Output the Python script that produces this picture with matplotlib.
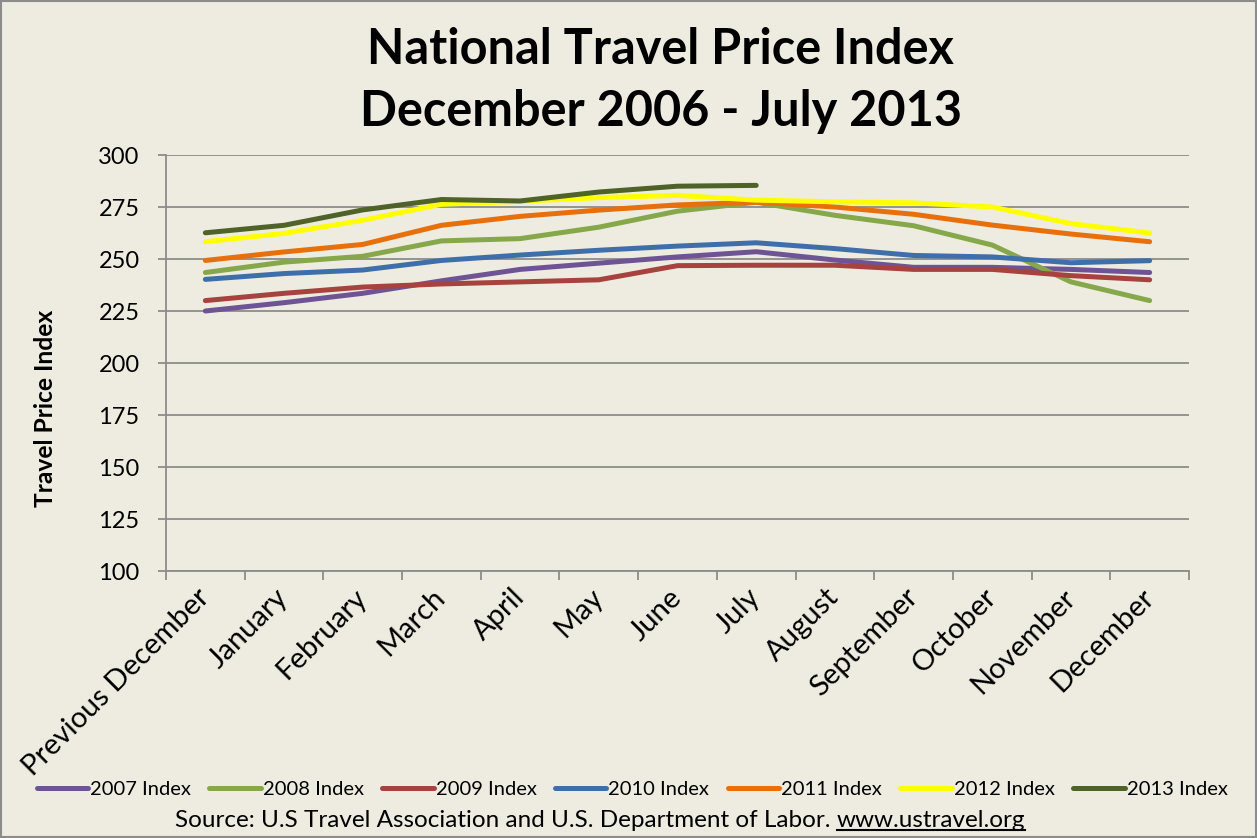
import matplotlib
matplotlib.use("Agg")
import matplotlib.pyplot as plt
from matplotlib.patches import Rectangle
from matplotlib.lines import Line2D

months = ["Previous December", "January", "February", "March", "April", "May",
          "June", "July", "August", "September", "October", "November", "December"]

idx_2007 = [225, 229, 233.5, 239.5, 245, 248, 251, 253.5, 249.5, 246, 246, 245, 243.5]
idx_2008 = [243.5, 248.5, 251.3, 258.7, 259.8, 265.3, 273, 277.3, 271, 266, 256.7, 239, 230]
idx_2009 = [230, 233.5, 236.5, 238, 239, 240, 246.8, 247, 247, 245, 245, 242, 240]
idx_2010 = [240.2, 243, 244.7, 249.3, 251.9, 254.2, 256.2, 257.8, 255, 251.7, 251, 248.2, 249.2]
idx_2011 = [249.3, 253.4, 257, 266.2, 270.5, 273.5, 276, 277.3, 275, 271.5, 266.3, 262, 258.3]
idx_2012 = [258.3, 262.3, 268.6, 276.3, 277.7, 279.5, 280.6, 278.3, 277.5, 277, 275, 267, 262.5]
idx_2013 = [262.6, 266.2, 273.6, 278.6, 277.9, 282.2, 285, 285.4]

series = [
    ("2007 Index", idx_2007, "#6E5494"),
    ("2008 Index", idx_2008, "#86A84A"),
    ("2009 Index", idx_2009, "#A8423F"),
    ("2010 Index", idx_2010, "#3F6FAA"),
    ("2011 Index", idx_2011, "#E8700C"),
    ("2012 Index", idx_2012, "#FFFF00"),
    ("2013 Index", idx_2013, "#4F6228"),
]

yticks = [100, 125, 150, 175, 200, 225, 250, 275, 300]

BG = "#EEECE1"
GRID = "#8C8C8C"
FONT = ["Lato", "DejaVu Sans"]
plt.rcParams["font.family"] = FONT

W, H = 1257, 838
fig = plt.figure(figsize=(W / 100, H / 100), dpi=100, facecolor=BG)
ax = fig.add_axes([166 / W, 1 - 571 / H, (1189 - 166) / W, (571 - 155) / H])
ax.set_facecolor(BG)

for name, vals, col in series:
    ax.plot(range(len(vals)), vals, color=col, lw=3.6, solid_capstyle="round",
            solid_joinstyle="round", label=name, zorder=3)

ax.set_xlim(-0.5, 12.5)
ax.set_ylim(100, 300)
ax.set_yticks(yticks)
ax.set_yticklabels([str(v) for v in yticks], fontsize=17)
ax.yaxis.grid(True, color=GRID, lw=1.3, zorder=1)
ax.set_axisbelow(True)

ax.set_xticks(range(13))
ax.set_xticklabels(months, rotation=45, ha="right", va="center",
                   rotation_mode="anchor", fontsize=21)
ax.tick_params(axis="x", which="major", length=0, pad=16)
ax.set_xticks([i - 0.5 for i in range(14)], minor=True)
ax.tick_params(axis="x", which="minor", length=6.5, color=GRID, width=1.3, direction="out")
ax.tick_params(axis="y", length=6, color=GRID, width=1.3, direction="out", pad=13)

for s in ["top", "right"]:
    ax.spines[s].set_visible(False)
for s in ["left", "bottom"]:
    ax.spines[s].set_color(GRID)
    ax.spines[s].set_linewidth(1.3)

ax.set_ylabel("Travel Price Index", fontsize=17.7, fontweight="bold")
ax.yaxis.set_label_coords(-0.1065, 0.39)

fig.text(0.5 + 32 / W, 1 - 50 / H, "National Travel Price Index", ha="center", va="center",
         fontsize=35, fontweight="bold")
fig.text(0.5 + 32 / W, 1 - 112 / H, "December 2006 - July 2013", ha="center", va="center",
         fontsize=35, fontweight="bold")

handles = [Line2D([0], [0], color=c, lw=3.6, solid_capstyle="round") for _, _, c in series]
labels = [n for n, _, _ in series]
fig.legend(handles, labels, loc="center", bbox_to_anchor=(632 / W, 1 - 789 / H), ncol=7,
           frameon=False, fontsize=14.5, handlelength=2.55, handletextpad=0.1,
           columnspacing=0.92)

src1 = "Source: U.S Travel Association and U.S. Department of Labor. "
src2 = "www.ustravel.org"
t1 = fig.text(175 / W, 1 - 820 / H, src1, ha="left", va="center", fontsize=17.5)
fig.canvas.draw()
r = fig.canvas.get_renderer()
bb = t1.get_window_extent(r)
t2 = fig.text(bb.x1 / W, 1 - 820 / H, src2, ha="left", va="center", fontsize=17.5)
fig.canvas.draw()
bb2 = t2.get_window_extent(r)
fig.add_artist(Line2D([bb2.x0 / W, bb2.x1 / W], [(bb2.y0 + 1) / H, (bb2.y0 + 1) / H],
                      color="black", lw=1.5, transform=fig.transFigure))

fig.add_artist(Rectangle((1 / W, 1 / H), (W - 2) / W, (H - 2) / H, fill=False,
                         edgecolor="#8C8C8C", lw=1.5, transform=fig.transFigure))

fig.savefig("out.png", dpi=100, facecolor=BG)
